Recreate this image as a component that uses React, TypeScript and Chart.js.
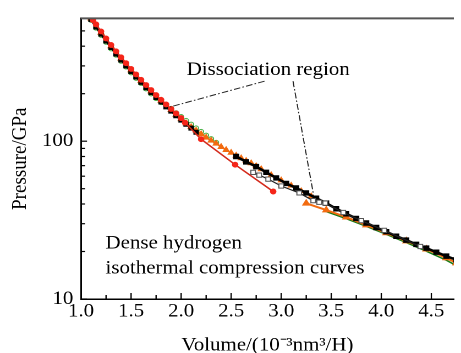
import { useEffect, useRef } from 'react';
import { Chart, registerables } from 'chart.js';

Chart.register(...registerables);

// horizontal stretch of the whole figure (reference text is wide)
const SX = 1.1;
const W = Math.round(461 / SX);
const H = 353;
const FONT = "'Liberation Serif', 'Times New Roman', serif";
const FS = 19;

// ---------------- data ----------------
const blackAV = [1.10, 1.15, 1.20, 1.25, 1.30, 1.35, 1.40, 1.45, 1.50, 1.55, 1.60, 1.65, 1.70, 1.75, 1.80, 1.85, 1.90, 1.95, 2.00, 2.05, 2.10, 2.15];
const blackAP = [590, 529, 477, 431, 392, 357, 327, 300, 276, 255, 236, 218, 203, 189, 177, 165, 155, 145, 136, 128, 121, 114];

const blackBV = [2.55, 2.65, 2.75, 2.85, 2.95, 3.05, 3.15, 3.25, 3.35, 3.45, 3.55, 3.65, 3.75, 3.85, 3.95, 4.05, 4.15, 4.25, 4.35, 4.45, 4.55, 4.65, 4.75];
const blackBP = [80, 74, 69, 63.5, 58.5, 54, 50.5, 47, 43.5, 40.5, 37.3, 34.7, 32.4, 30.3, 28.4, 26.7, 25.0, 23.6, 22.2, 21.0, 19.8, 18.7, 17.7];

const redV = [1.12, 1.15, 1.20, 1.25, 1.30, 1.35, 1.40, 1.45, 1.50, 1.55, 1.60, 1.65, 1.70, 1.75, 1.80, 1.85, 1.90, 1.95, 2.00, 2.04, 2.20, 2.54, 2.92];
const redP = [585, 550, 496, 448, 407, 371, 340, 312, 287, 265, 245, 227, 211, 196, 183, 171, 160, 150, 140, 131, 103, 71, 48];

const orangeUpV = [1.10, 1.20, 1.30, 1.40, 1.50, 1.60, 1.70, 1.80, 1.90, 1.95, 2.00, 2.05, 2.10, 2.15, 2.20, 2.25, 2.30, 2.35, 2.40, 2.45, 2.50, 2.55, 2.60, 2.65, 2.70, 2.75, 2.80, 2.90, 3.00, 3.10, 3.20, 3.30];
const orangeUpP = [600, 487, 400, 334, 282, 241, 207, 181, 158, 147, 138, 130, 123, 117, 111, 105.5, 101, 96.5, 92, 88, 84.5, 81, 78, 75, 72.5, 69.5, 66.5, 61, 56.5, 52.3, 48.3, 44.8];

const orangeLowV = [3.25, 3.45, 3.65, 3.85, 4.05, 4.25, 4.45, 4.65, 4.75];
const orangeLowP = [40.4, 36.6, 33.0, 29.4, 26.2, 23.3, 20.7, 18.2, 16.9];

const greenUpV = [1.10, 1.15, 1.20, 1.25, 1.30, 1.35, 1.40, 1.45, 1.50, 1.55, 1.60, 1.65, 1.70, 1.75, 1.80, 1.85, 1.90, 1.95, 2.00, 2.05, 2.10, 2.15, 2.20, 2.25, 2.30, 2.35];
const greenUpP = [585, 522, 470, 425, 386, 352, 322, 296, 272, 251, 233, 215, 200, 187, 176, 168, 161, 151, 143, 135, 128, 121, 115, 109, 103.5, 98];

const greenLowV = [3.45, 3.65, 3.85, 4.05, 4.25, 4.45, 4.65, 4.75];
const greenLowP = [35.8, 32.3, 28.9, 25.7, 22.8, 20.1, 17.6, 16.3];

const openV = [2.72, 2.78, 2.87, 3.00, 3.18, 3.32, 3.38, 3.44, 3.62, 3.80, 4.03, 4.39];
const openP = [63.5, 61, 57.5, 52, 47, 42, 41, 40.5, 35.3, 31.4, 27.2, 21.5];

// axes
const xMin = 1.0;
const xMax = 4.725;
const yMin = 10;
const yMax = 600;
const xMajorTicks = [1.0, 1.5, 2.0, 2.5, 3.0, 3.5, 4.0, 4.5];
const xMinorTicks = [1.25, 1.75, 2.25, 2.75, 3.25, 3.75, 4.25];
const yMajorTicks = [10, 100];
const yMinorTicks = [20, 30, 40, 50, 60, 70, 80, 90, 200, 300, 400, 500];

const xTitle = 'Volume/(10⁻³nm³/H)';
const yTitle = 'Pressure/GPa';

// annotations (data coordinates)
const noteText = 'Dissociation region';
const notePos = { x: 2.87, y: 282 };
const leader1 = [{ x: 2.833, y: 240 }, { x: 1.892, y: 165 }];
const leader2 = [{ x: 3.118, y: 240 }, { x: 3.324, y: 45.3 }];
const legendLines = ['Dense hydrogen', 'isothermal compression curves'];
const legendPos = [{ x: 1.245, y: 22.4 }, { x: 1.245, y: 15.6 }];

const pts = (v: number[], p: number[]) => v.map((x, i) => ({ x, y: p[i] }));

const decorPlugin = {
  id: 'decor',
  afterDraw(chart: any) {
    const { ctx, chartArea: a, scales } = chart;
    const xs = scales.x;
    const ys = scales.y;
    ctx.save();
    // top frame line
    ctx.strokeStyle = '#555';
    ctx.lineWidth = 2;
    ctx.beginPath();
    ctx.moveTo(a.left, a.top);
    ctx.lineTo(a.right, a.top);
    ctx.stroke();
    // inward ticks
    ctx.strokeStyle = '#000';
    ctx.lineWidth = 1.2;
    const xt = (v: number, len: number) => {
      const px = xs.getPixelForValue(v);
      ctx.beginPath();
      ctx.moveTo(px, a.bottom);
      ctx.lineTo(px, a.bottom - len);
      ctx.stroke();
    };
    const yt = (v: number, len: number) => {
      const py = ys.getPixelForValue(v);
      ctx.beginPath();
      ctx.moveTo(a.left, py);
      ctx.lineTo(a.left + len / SX, py);
      ctx.stroke();
    };
    xMajorTicks.forEach((v) => xt(v, 6));
    xMinorTicks.forEach((v) => xt(v, 4));
    yMajorTicks.forEach((v) => yt(v, 6));
    yMinorTicks.forEach((v) => yt(v, 4));
    // leader lines
    ctx.strokeStyle = '#222';
    ctx.lineWidth = 1;
    ctx.setLineDash([6, 2, 1.5, 2]);
    [leader1, leader2].forEach((ln) => {
      ctx.beginPath();
      ctx.moveTo(xs.getPixelForValue(ln[0].x), ys.getPixelForValue(ln[0].y));
      ctx.lineTo(xs.getPixelForValue(ln[1].x), ys.getPixelForValue(ln[1].y));
      ctx.stroke();
    });
    ctx.setLineDash([]);
    // texts
    ctx.fillStyle = '#000';
    ctx.font = `${FS}px ${FONT}`;
    ctx.textBaseline = 'middle';
    ctx.textAlign = 'center';
    ctx.fillText(noteText, xs.getPixelForValue(notePos.x), ys.getPixelForValue(notePos.y));
    ctx.textAlign = 'left';
    legendLines.forEach((t, i) => {
      ctx.fillText(t, xs.getPixelForValue(legendPos[i].x), ys.getPixelForValue(legendPos[i].y));
    });
    ctx.restore();
  },
};

export default function App() {
  const ref = useRef<HTMLCanvasElement>(null);
  useEffect(() => {
    const chart = new Chart(ref.current!, {
      type: 'line',
      data: {
        datasets: [
          {
            label: 'green upper',
            data: pts(greenUpV, greenUpP),
            borderColor: '#45b045',
            borderWidth: 1,
            borderDash: [3, 2],
            pointStyle: 'circle',
            pointRadius: 2.2,
            pointBackgroundColor: '#fff',
            pointBorderColor: '#45b045',
            pointBorderWidth: 1,
            order: 7,
          },
          {
            label: 'green lower',
            data: pts(greenLowV, greenLowP),
            borderColor: '#137a13',
            borderWidth: 1.5,
            pointRadius: 0,
            order: 6,
          },
          {
            label: 'orange upper',
            data: pts(orangeUpV, orangeUpP),
            borderColor: '#f26b10',
            borderWidth: 1.5,
            pointStyle: 'triangle',
            pointRadius: 2.6,
            pointBackgroundColor: '#f26b10',
            pointBorderColor: '#f26b10',
            order: 5,
          },
          {
            label: 'orange lower',
            data: pts(orangeLowV, orangeLowP),
            borderColor: '#f26b10',
            borderWidth: 2,
            pointStyle: 'triangle',
            pointRadius: 2.6,
            pointBackgroundColor: '#f26b10',
            pointBorderColor: '#f26b10',
            order: 4,
          },
          {
            label: 'black A',
            data: pts(blackAV, blackAP),
            borderColor: '#000',
            borderWidth: 2,
            pointStyle: 'rect',
            pointRadius: 2.1,
            pointBackgroundColor: '#000',
            pointBorderColor: '#000',
            order: 3,
          },
          {
            label: 'black B',
            data: pts(blackBV, blackBP),
            borderColor: '#000',
            borderWidth: 2.5,
            pointStyle: 'rect',
            pointRadius: 2.1,
            pointBackgroundColor: '#000',
            pointBorderColor: '#000',
            order: 3,
          },
          {
            label: 'open squares',
            data: pts(openV, openP),
            borderColor: '#222',
            borderWidth: 1.2,
            pointStyle: 'rect',
            pointRadius: 3,
            pointBackgroundColor: '#fff',
            pointBorderColor: '#555',
            pointBorderWidth: 1,
            order: 2,
          },
          {
            label: 'red',
            data: pts(redV, redP),
            borderColor: '#d42a1c',
            borderWidth: 1.5,
            pointStyle: 'circle',
            pointRadius: 2.2,
            pointBackgroundColor: '#f5261a',
            pointBorderColor: '#f5261a',
            order: 1,
          },
        ],
      },
      options: {
        animation: false,
        responsive: false,
        devicePixelRatio: 2,
        events: [],
        layout: { padding: { top: 15, left: 0, right: 0, bottom: 0 } },
        plugins: { legend: { display: false }, tooltip: { enabled: false } },
        scales: {
          x: {
            type: 'linear',
            min: xMin,
            max: xMax,
            grid: { display: false, drawTicks: false },
            border: { display: true, color: '#000', width: 1.5 },
            ticks: {
              color: '#000',
              font: { family: FONT, size: FS },
              padding: 1,
              maxRotation: 0,
              autoSkip: false,
              callback: (v: any) => Number(v).toFixed(1),
            },
            afterBuildTicks: (s: any) => {
              s.ticks = xMajorTicks.map((value) => ({ value }));
            },
            afterFit: (s: any) => {
              s.height = 54;
            },
            title: {
              display: true,
              text: xTitle,
              color: '#000',
              font: { family: FONT, size: FS, lineHeight: 1 },
              padding: { top: 0, bottom: -2 },
            },
          },
          y: {
            type: 'logarithmic',
            min: yMin,
            max: yMax,
            grid: { display: false, drawTicks: false },
            border: { display: true, color: '#000', width: 1.5 },
            ticks: {
              color: '#000',
              font: { family: FONT, size: FS },
              padding: 7,
              autoSkip: false,
              callback: (v: any) => (yMajorTicks.includes(Number(v)) ? String(v) : ''),
            },
            afterBuildTicks: (s: any) => {
              s.ticks = yMajorTicks.map((value) => ({ value }));
            },
            afterFit: (s: any) => {
              s.width = 81 / SX;
            },
            title: {
              display: true,
              text: yTitle,
              color: '#000',
              font: { family: FONT, size: FS },
              padding: { top: 7, bottom: 0 },
            },
          },
        },
      },
      plugins: [decorPlugin],
    } as any);
    return () => chart.destroy();
  }, []);
  return (
    <div style={{ position: 'absolute', left: 0, top: 0, width: 461, height: 353, background: '#fff' }}>
      <canvas ref={ref} width={W} height={H} style={{ width: '461px', height: '353px', display: 'block' }} />
    </div>
  );
}
